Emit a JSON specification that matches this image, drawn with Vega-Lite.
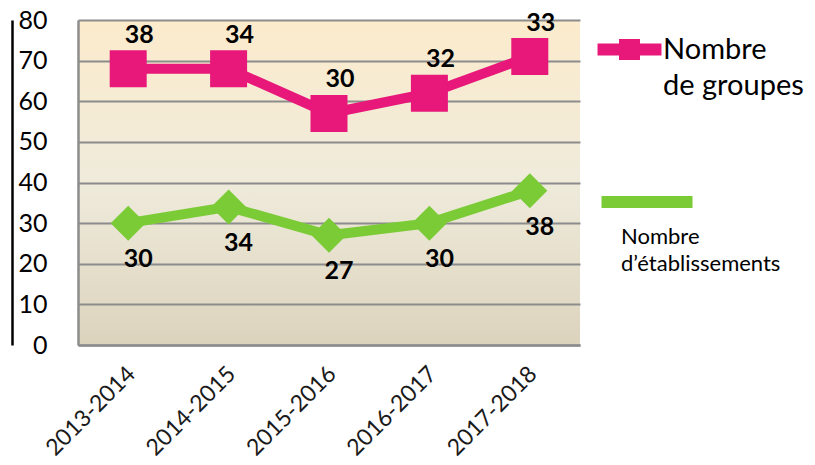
{
  "$schema": "https://vega.github.io/schema/vega-lite/v6.json",
  "width": 502,
  "height": 325,
  "autosize": {"type": "none"},
  "padding": {"left": 78, "top": 20, "right": 235, "bottom": 120},
  "background": "white",
  "config": {
    "font": "Lato",
    "style": {"guide-label": {"lineHeight": 36}},
    "view": {
      "stroke": null,
      "fill": {
        "gradient": "linear", "x1": 0, "y1": 0, "x2": 0, "y2": 1,
        "stops": [
          {"offset": 0, "color": "#FCEBCC"},
          {"offset": 0.5, "color": "#EFEBDB"},
          {"offset": 1, "color": "#DCD3BD"}
        ]
      }
    }
  },
  "data": {
    "values": [
      {"year": "2013-2014", "serie": "etablissements", "value": 30},
      {"year": "2014-2015", "serie": "etablissements", "value": 34},
      {"year": "2015-2016", "serie": "etablissements", "value": 27},
      {"year": "2016-2017", "serie": "etablissements", "value": 30},
      {"year": "2017-2018", "serie": "etablissements", "value": 38},
      {"year": "2013-2014", "serie": "groupes", "value": 38},
      {"year": "2014-2015", "serie": "groupes", "value": 34},
      {"year": "2015-2016", "serie": "groupes", "value": 30},
      {"year": "2016-2017", "serie": "groupes", "value": 32},
      {"year": "2017-2018", "serie": "groupes", "value": 33}
    ]
  },
  "transform": [
    {"stack": "value", "groupby": ["year"], "sort": [{"field": "serie", "order": "ascending"}], "as": ["v0", "v1"]}
  ],
  "encoding": {
    "x": {
      "field": "year", "type": "ordinal",
      "scale": {"type": "point", "padding": 0.5},
      "axis": {
        "title": null, "ticks": false, "grid": false,
        "domainColor": "#8C8C8C", "domainWidth": 2.5,
        "labelAngle": -45, "labelAlign": "right", "labelBaseline": "middle",
        "labelFontSize": 23, "labelColor": "#1a1a1a", "labelPadding": 25, "labelOffset": 3
      }
    }
  },
  "layer": [
    {
      "transform": [{"filter": "datum.serie === 'groupes'"}],
      "mark": {"type": "line", "color": "#E8177A", "strokeWidth": 10},
      "encoding": {
        "y": {
          "field": "v1", "type": "quantitative", "scale": {"domain": [0, 80]},
          "axis": {
            "orient": "left", "offset": 0, "title": null,
            "values": [0, 10, 20, 30, 40, 50, 60, 70, 80],
            "domain": true, "domainColor": "#8C8C8C", "domainWidth": 2.5,
            "grid": true, "gridColor": "#8C8C8C", "gridWidth": 2,
            "ticks": false, "labelFontSize": 25, "labelColor": "black", "labelPadding": 31
          }
        }
      }
    },
    {
      "transform": [{"filter": "datum.serie === 'etablissements'"}],
      "mark": {"type": "line", "color": "#7BCB37", "strokeWidth": 10},
      "encoding": {
        "y": {
          "field": "v1", "type": "quantitative", "scale": {"domain": [0, 80]},
          "axis": {
            "orient": "left", "offset": 66, "title": null,
            "domain": true, "domainColor": "black", "domainWidth": 2.5,
            "grid": false, "ticks": false, "labels": false
          }
        }
      }
    },
    {
      "transform": [{"filter": "datum.serie === 'groupes'"}],
      "mark": {"type": "point", "shape": "square", "filled": true, "size": 1369, "opacity": 1},
      "encoding": {
        "y": {"field": "v1", "type": "quantitative", "scale": {"domain": [0, 80]}, "axis": null},
        "color": {
          "datum": "Nombre de groupes",
          "scale": {"range": ["#E8177A"]},
          "legend": {
            "orient": "none", "legendX": 537, "legendY": 15, "padding": 0, "title": null,
            "symbolSize": 144, "symbolOpacity": 1,
            "symbolType": "M-5.33,-1L5.33,-1L5.33,1L-5.33,1Z M-1.75,-1.75L1.75,-1.75L1.75,1.75L-1.75,1.75Z",
            "labelFontSize": 29, "labelColor": "black", "labelOffset": 19,
            "labelExpr": "['Nombre', 'de groupes']"
          }
        }
      }
    },
    {
      "transform": [{"filter": "datum.serie === 'etablissements'"}],
      "mark": {"type": "point", "shape": "diamond", "filled": true, "size": 1225, "opacity": 1},
      "encoding": {
        "y": {"field": "v1", "type": "quantitative", "scale": {"domain": [0, 80]}, "axis": null},
        "color": {
          "datum": "Nombre d’établissements",
          "scale": {"range": ["#7BCB37"]},
          "legend": {
            "orient": "none", "legendX": 543, "legendY": 176, "padding": 0,
            "title": ["Nombre", "d’établissements"],
            "titleOrient": "bottom", "titleFontSize": 22, "titleFontWeight": "normal",
            "titleColor": "black", "titleLineHeight": 27, "titleAnchor": "start", "titlePadding": 19,
            "symbolSize": 100, "symbolOpacity": 1, "symbolFillColor": "#92D050",
            "symbolType": "M-5.1,-1.2L13.1,-1.2L13.1,1.2L-5.1,1.2Z",
            "labelFontSize": 1, "labelExpr": "''"
          }
        }
      }
    },
    {
      "transform": [{"filter": "datum.serie === 'groupes'"}],
      "mark": {"type": "text", "fontSize": 25, "fontWeight": "bold", "color": "black", "dx": 11, "dy": -34, "baseline": "middle"},
      "encoding": {
        "y": {"field": "v1", "type": "quantitative", "scale": {"domain": [0, 80]}, "axis": null},
        "text": {"field": "value", "type": "quantitative"}
      }
    },
    {
      "transform": [{"filter": "datum.serie === 'etablissements'"}],
      "mark": {"type": "text", "fontSize": 25, "fontWeight": "bold", "color": "black", "dx": 10, "dy": 36, "baseline": "middle"},
      "encoding": {
        "y": {"field": "v1", "type": "quantitative", "scale": {"domain": [0, 80]}, "axis": null},
        "text": {"field": "value", "type": "quantitative"}
      }
    }
  ],
  "resolve": {"scale": {"color": "independent"}, "axis": {"y": "independent"}}
}
